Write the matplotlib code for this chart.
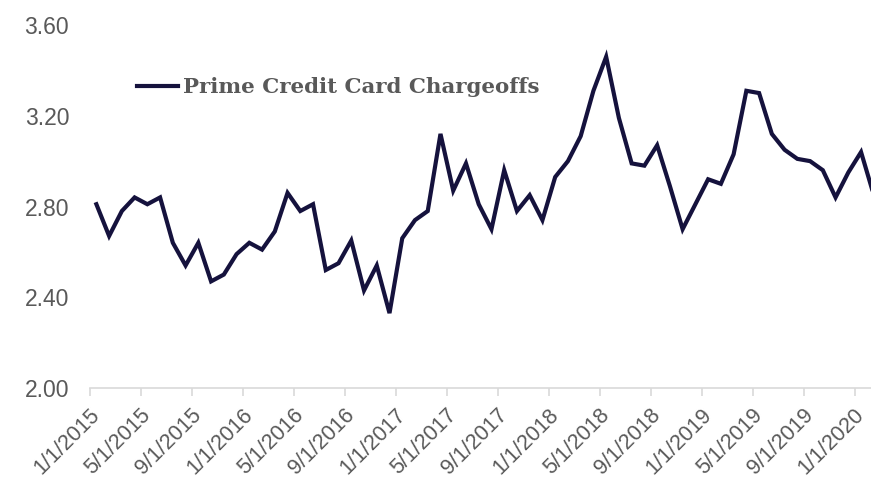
import numpy as np
import pandas as pd
import matplotlib
matplotlib.use("Agg")
import matplotlib.pyplot as plt

# monthly prime credit card chargeoff rate, Jan 2015 - Feb 2020
months = pd.date_range("2015-01-01", periods=62, freq="MS")
chargeoffs = [
    2.81, 2.67, 2.78, 2.84, 2.81, 2.84, 2.64, 2.54, 2.64, 2.47, 2.50, 2.59,
    2.64, 2.61, 2.69, 2.86, 2.78, 2.81, 2.52, 2.55, 2.65, 2.43, 2.54, 2.33,
    2.66, 2.74, 2.78, 3.12, 2.87, 2.99, 2.81, 2.70, 2.96, 2.78, 2.85, 2.74,
    2.93, 3.00, 3.11, 3.31, 3.46, 3.19, 2.99, 2.98, 3.07, 2.89, 2.70, 2.81,
    2.92, 2.90, 3.03, 3.31, 3.30, 3.12, 3.05, 3.01, 3.00, 2.96, 2.84, 2.95,
    3.04, 2.85,
]
tick_labels = [
    "1/1/2015", "5/1/2015", "9/1/2015", "1/1/2016", "5/1/2016", "9/1/2016",
    "1/1/2017", "5/1/2017", "9/1/2017", "1/1/2018", "5/1/2018", "9/1/2018",
    "1/1/2019", "5/1/2019", "9/1/2019", "1/1/2020",
]
y_ticks = [2.00, 2.40, 2.80, 3.20, 3.60]

grey = "#595959"
navy = "#15123d"

fig = plt.figure(figsize=(8.71, 4.83), dpi=100)
ax = fig.add_axes([90 / 871, 1 - 388 / 483, 1 - 90 / 871, (388 - 25) / 483])

x = np.arange(len(chargeoffs))
ax.plot(x, chargeoffs, color=navy, lw=3.0, solid_joinstyle="miter",
        label="Prime Credit Card Chargeoffs")

ax.set_xlim(-0.5, 60.78)
ax.set_ylim(2.0, 3.6)

# category boundaries get the tick marks, labels sit on the category
ax.set_xticks(np.arange(len(tick_labels)) * 4 - 0.5, minor=True)
ax.set_xticks(np.arange(len(tick_labels)) * 4)
ax.set_xticklabels(tick_labels, rotation=45, ha="right", va="center",
                   rotation_mode="anchor", fontsize=15.5, color=grey,
                   family="Liberation Sans")
ax.tick_params(axis="x", which="major", length=0, pad=17)
ax.tick_params(axis="x", which="minor", length=6, color="#d9d9d9", width=1.2)

ax.set_yticks(y_ticks)
ax.set_yticklabels([f"{v:.2f}" for v in y_ticks], fontsize=16.5, color=grey,
                   family="Liberation Sans")
ax.tick_params(axis="y", length=0, pad=15)

for s in ["top", "right", "left"]:
    ax.spines[s].set_visible(False)
ax.spines["bottom"].set_color("#d9d9d9")
ax.spines["bottom"].set_linewidth(1.2)

leg = ax.legend(loc="upper left", bbox_to_anchor=(118 / 871, 1 - 58 / 483),
                bbox_transform=fig.transFigure, frameon=False,
                handlelength=1.9, handletextpad=0.25,
                prop={"family": "DejaVu Serif", "weight": "bold", "size": 15.4})
for t in leg.get_texts():
    t.set_color(grey)

fig.savefig("out.png", dpi=100)
